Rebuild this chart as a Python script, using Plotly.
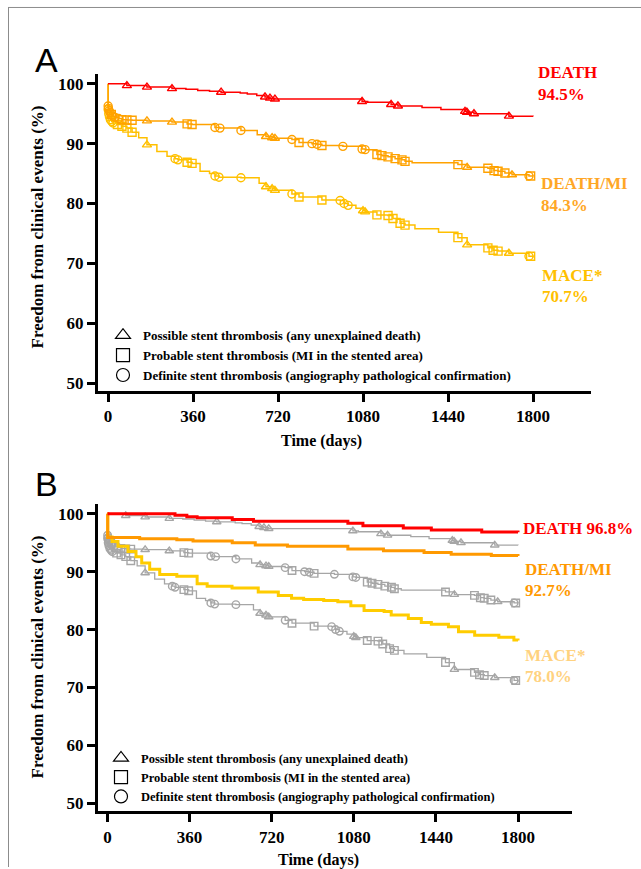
import numpy as np
import plotly.graph_objects as go

# ---------------- DATA ----------------
ticks_x = [0, 360, 720, 1080, 1440, 1800]
ticks_y = [50, 60, 70, 80, 90, 100]

# Panel A curves (also drawn grey in panel B)
death_days = [0, 80, 165, 271, 330, 380, 430, 479, 560, 590, 630, 665, 686, 707, 1076, 1100, 1199, 1228, 1330, 1410, 1512, 1520, 1550, 1698, 1800]
death_vals = [100, 99.7, 99.45, 99.2, 99.1, 98.9, 98.75, 98.6, 98.45, 98.3, 98.05, 97.8, 97.6, 97.45, 97.05, 96.9, 96.55, 96.3, 96.05, 95.7, 95.4, 95.25, 95.0, 94.6, 94.55]
death_mark_days = [80, 165, 271, 479, 665, 686, 707, 1076, 1199, 1228, 1512, 1520, 1550, 1698]
death_mark_syms = ["t"] * 14

dmi_days = [0, 0.5, 2, 5, 9, 14, 20, 30, 45, 59, 80, 102, 165, 271, 335, 356, 453, 474, 563, 632, 669, 695, 707, 779, 809, 864, 885, 906, 995, 1076, 1089, 1139, 1160, 1186, 1216, 1245, 1258, 1288, 1482, 1521, 1609, 1635, 1652, 1681, 1711, 1783, 1800]
dmi_vals = [100, 96.3, 95.9, 95.5, 95.2, 94.9, 94.6, 94.4, 94.2, 94.0, 93.95, 93.9, 93.8, 93.6, 93.3, 93.2, 92.7, 92.6, 92.2, 91.5, 91.2, 91.0, 90.9, 90.7, 90.2, 90.0, 89.9, 89.7, 89.55, 89.1, 89.0, 88.2, 88.0, 87.8, 87.5, 87.3, 87.05, 86.8, 86.5, 86.05, 85.9, 85.5, 85.4, 85.1, 84.8, 84.6, 84.55]
dmi_mark_days = [0.5, 2, 5, 9, 14, 20, 30, 45, 59, 80, 102, 165, 271, 335, 356, 453, 474, 563, 669, 695, 707, 779, 809, 864, 885, 906, 995, 1076, 1089, 1139, 1160, 1186, 1216, 1245, 1258, 1482, 1521, 1609, 1635, 1652, 1681, 1711, 1783, 1790]
dmi_mark_syms = ["c", "c", "c", "c", "s", "c", "c", "c", "s", "s", "s", "t", "t", "s", "s", "c", "c", "c", "t", "t", "t", "c", "s", "c", "c", "s", "c", "c", "c", "s", "s", "s", "s", "s", "s", "s", "t", "s", "s", "s", "s", "t", "c", "s"]

mace_days = [0, 0.5, 3, 6, 10, 16, 21, 40, 59, 80, 102, 130, 165, 207, 250, 284, 296, 335, 356, 390, 430, 453, 470, 563, 640, 669, 695, 707, 779, 809, 906, 983, 1000, 1017, 1050, 1080, 1089, 1139, 1186, 1207, 1237, 1258, 1300, 1400, 1482, 1521, 1609, 1631, 1652, 1698, 1783, 1800]
mace_vals = [100, 95.7, 95.0, 94.5, 94.0, 93.7, 93.45, 93.2, 92.9, 92.6, 91.9, 91.0, 89.8, 88.7, 87.9, 87.5, 87.3, 86.9, 86.7, 85.4, 85.0, 84.6, 84.4, 84.3, 83.4, 82.8, 82.5, 82.2, 81.6, 81.1, 80.6, 80.5, 80.0, 79.7, 79.2, 78.8, 78.6, 78.1, 78.0, 77.5, 76.7, 76.4, 75.8, 75.2, 74.3, 73.1, 72.6, 72.2, 72.05, 71.7, 71.2, 71.0]
mace_mark_days = [0.5, 3, 6, 10, 16, 21, 40, 59, 80, 102, 165, 284, 296, 335, 356, 453, 470, 563, 669, 695, 707, 779, 809, 906, 983, 1000, 1017, 1080, 1089, 1139, 1186, 1207, 1237, 1258, 1482, 1521, 1609, 1631, 1652, 1698, 1783, 1790]
mace_mark_syms = ["c", "c", "c", "c", "c", "c", "s", "s", "s", "s", "t", "c", "c", "s", "s", "c", "c", "c", "t", "t", "t", "c", "s", "s", "c", "c", "c", "t", "t", "s", "s", "s", "s", "s", "s", "t", "s", "s", "s", "t", "c", "s"]

# Panel B highlighted curves
b_death_days = [0, 296, 348, 393, 547, 640, 1054, 1120, 1297, 1420, 1641, 1800]
b_death_vals = [100, 99.75, 99.5, 99.3, 99.0, 98.7, 98.35, 97.95, 97.55, 97.2, 96.85, 96.8]
b_dmi_days = [0, 1, 141, 304, 375, 547, 648, 789, 1054, 1210, 1388, 1507, 1683, 1800]
b_dmi_vals = [100, 95.9, 95.7, 95.5, 95.3, 95.0, 94.6, 94.4, 93.9, 93.6, 93.3, 93.0, 92.8, 92.7]
b_mace_days = [0, 1, 20, 46, 90, 125, 150, 185, 229, 304, 393, 437, 546, 661, 749, 807, 860, 948, 1010, 1067, 1125, 1213, 1244, 1319, 1376, 1420, 1495, 1539, 1610, 1716, 1782, 1800]
b_mace_vals = [100, 96.0, 95.2, 94.4, 93.5, 92.6, 91.5, 90.4, 89.5, 89.2, 87.9, 87.5, 87.2, 86.5, 85.9, 85.4, 85.2, 85.0, 84.8, 84.1, 83.3, 83.1, 82.5, 81.9, 81.2, 80.9, 80.5, 79.6, 79.0, 78.65, 78.2, 78.1]

legend_labels = [
    "Possible stent thrombosis (any unexplained death)",
    "Probable stent thrombosis (MI in the stented area)",
    "Definite stent thrombosis (angiography pathological confirmation)",
]

# ---------------- STYLE ----------------
W, H = 641, 869
SERIF = "Liberation Serif"
RED = "#FF0000"
ORANGE_A = "#FFA200"
GOLD_A = "#FFC000"
ORANGE_B = "#FF9900"
GOLD_B = "#FFCC00"
MACE_B_TXT = "#FFD27F"
GRAY = "#A6A6A6"
SYM = {"t": "triangle-up-open", "s": "square-open", "c": "circle-open"}


def px_x(p):
    return p / W


def px_y(p):
    return 1 - p / H


def step_at(days, vals, d):
    days = np.asarray(days, float)
    vals = np.asarray(vals, float)
    i = np.searchsorted(days, d, side="right") - 1
    return vals[np.clip(i, 0, len(vals) - 1)]


fig = go.Figure()


def add_curve(days, vals, mdays, msyms, color, lw, xa, ya, msize=8):
    fig.add_trace(go.Scatter(x=days, y=vals, mode="lines", line=dict(color=color, width=lw, shape="hv"),
                             xaxis=xa, yaxis=ya, showlegend=False, hoverinfo="skip"))
    if mdays:
        my = step_at(days, vals, np.asarray(mdays, float))
        fig.add_trace(go.Scatter(x=mdays, y=my, mode="markers",
                                 marker=dict(symbol=[SYM[s] for s in msyms], size=msize, color=color,
                                             line=dict(color=color, width=1.4)),
                                 xaxis=xa, yaxis=ya, showlegend=False, hoverinfo="skip"))


# Panel A
add_curve(mace_days, mace_vals, mace_mark_days, mace_mark_syms, GOLD_A, 1.5, "x", "y")
add_curve(dmi_days, dmi_vals, dmi_mark_days, dmi_mark_syms, ORANGE_A, 1.5, "x", "y")
add_curve(death_days, death_vals, death_mark_days, death_mark_syms, RED, 1.5, "x", "y")

# Panel B: grey reference then highlighted
add_curve(mace_days, mace_vals, mace_mark_days, mace_mark_syms, GRAY, 1.3, "x2", "y2", msize=7.5)
add_curve(dmi_days, dmi_vals, dmi_mark_days, dmi_mark_syms, GRAY, 1.3, "x2", "y2", msize=7.5)
add_curve(death_days, death_vals, death_mark_days, death_mark_syms, GRAY, 1.3, "x2", "y2", msize=7.5)
add_curve(b_mace_days, b_mace_vals, [], [], GOLD_B, 3, "x2", "y2")
add_curve(b_dmi_days, b_dmi_vals, [], [], ORANGE_B, 3, "x2", "y2")
add_curve(b_death_days, b_death_vals, [], [], RED, 3, "x2", "y2")

# legend entries (one legend per panel)
for lg, xa, ya in [("legend", "x", "y"), ("legend2", "x2", "y2")]:
    for lab, s in zip(legend_labels, ["t", "s", "c"]):
        fig.add_trace(go.Scatter(x=[None], y=[None], mode="markers", name="<b>" + lab + "</b>",
                                 marker=dict(symbol=SYM[s], size=13, color="black", line=dict(color="black", width=1.2)),
                                 xaxis=xa, yaxis=ya, legend=lg, showlegend=True))

tickfont = dict(family=SERIF, size=17, color="black", weight="bold")
axis_common = dict(showline=True, linewidth=3, linecolor="black", ticks="outside", ticklen=8, tickwidth=3,
                   tickcolor="black", showgrid=False, zeroline=False, tickfont=tickfont, fixedrange=True)

# pixel geometry
A_left, A_right, A_top, A_bot = 98, 591, 74, 392
B_left, B_right, B_top, B_bot = 98, 572, 505, 813
A_x0, A_x1800 = 108, 533
B_x0, B_x1800 = 107.5, 518
A_y100, A_ppu = 84, 6.0
B_y100, B_ppu = 515, 5.8


def xr(left, right, x0, x1800):
    s = (x1800 - x0) / 1800
    return [(left - x0) / s, (right - x0) / s]


def yr(top, bot, y100, ppu):
    return [100 - (bot - y100) / ppu, 100 - (top - y100) / ppu]


fig.update_layout(
    width=W, height=H, margin=dict(l=0, r=0, t=0, b=0), autosize=False,
    paper_bgcolor="white", plot_bgcolor="white",
    xaxis=dict(domain=[px_x(A_left), px_x(A_right)], range=xr(A_left, A_right, A_x0, A_x1800),
               tickvals=ticks_x, anchor="y", **axis_common),
    yaxis=dict(domain=[px_y(A_bot), px_y(A_top)], range=yr(A_top, A_bot, A_y100, A_ppu),
               tickvals=ticks_y, anchor="x", **axis_common),
    xaxis2=dict(domain=[px_x(B_left), px_x(B_right)], range=xr(B_left, B_right, B_x0, B_x1800),
                tickvals=ticks_x, anchor="y2", **axis_common),
    yaxis2=dict(domain=[px_y(B_bot), px_y(B_top)], range=yr(B_top, B_bot, B_y100, B_ppu),
                tickvals=ticks_y, anchor="x2", **axis_common),
    legend=dict(x=px_x(103), y=px_y(321), xanchor="left", yanchor="top", bgcolor="rgba(0,0,0,0)",
                font=dict(family=SERIF, size=13, color="black"), tracegroupgap=0, itemwidth=30),
    legend2=dict(x=px_x(101), y=px_y(745), xanchor="left", yanchor="top", bgcolor="rgba(0,0,0,0)",
                 font=dict(family=SERIF, size=12.5, color="black"), tracegroupgap=0, itemwidth=30),
    showlegend=True,
)

ann = []


def txt(x, y, s, size, color="black", xanchor="left", angle=0, family=SERIF, bold=True):
    ann.append(dict(x=px_x(x), y=px_y(y), xref="paper", yref="paper", text=("<b>%s</b>" % s) if bold else s,
                    showarrow=False, xanchor=xanchor, yanchor="middle", textangle=angle,
                    font=dict(family=family, size=size, color=color)))


# panel letters
txt(33, 60, "A", 34, family="Liberation Sans", bold=False)
txt(33, 485, "B", 34, family="Liberation Sans", bold=False)
# axis titles
txt(37, 228, "Freedom from clinical events (%)", 17, xanchor="center", angle=-90)
txt(37, 659, "Freedom from clinical events (%)", 17, xanchor="center", angle=-90)
txt(322, 442, "Time (days)", 16, xanchor="center")
txt(318, 862, "Time (days)", 16, xanchor="center")
# panel A end labels
txt(536, 73, "DEATH", 17, RED)
txt(536, 95, "94.5%", 17, RED)
txt(539, 184, "DEATH/MI", 17, "#FFA726")
txt(539, 206, "84.3%", 17, "#FFA726")
txt(540, 276, "MACE*", 17, GOLD_A)
txt(540, 297, "70.7%", 17, GOLD_A)
# panel B end labels
txt(521, 530, "DEATH 96.8%", 17, RED)
txt(523, 571, "DEATH/MI", 17, ORANGE_B)
txt(523, 592, "92.7%", 17, ORANGE_B)
txt(523, 657, "MACE*", 17, MACE_B_TXT)
txt(523, 678, "78.0%", 17, MACE_B_TXT)

fig.update_layout(annotations=ann)

# outer frame lines
fig.update_layout(shapes=[
    dict(type="line", xref="paper", yref="paper", x0=px_x(8), x1=1, y0=px_y(7.5), y1=px_y(7.5),
         line=dict(color="#8C8C8C", width=1)),
    dict(type="line", xref="paper", yref="paper", x0=px_x(8.5), x1=px_x(8.5), y0=px_y(7.5), y1=0,
         line=dict(color="#8C8C8C", width=1)),
])

fig.write_html("out.html")
